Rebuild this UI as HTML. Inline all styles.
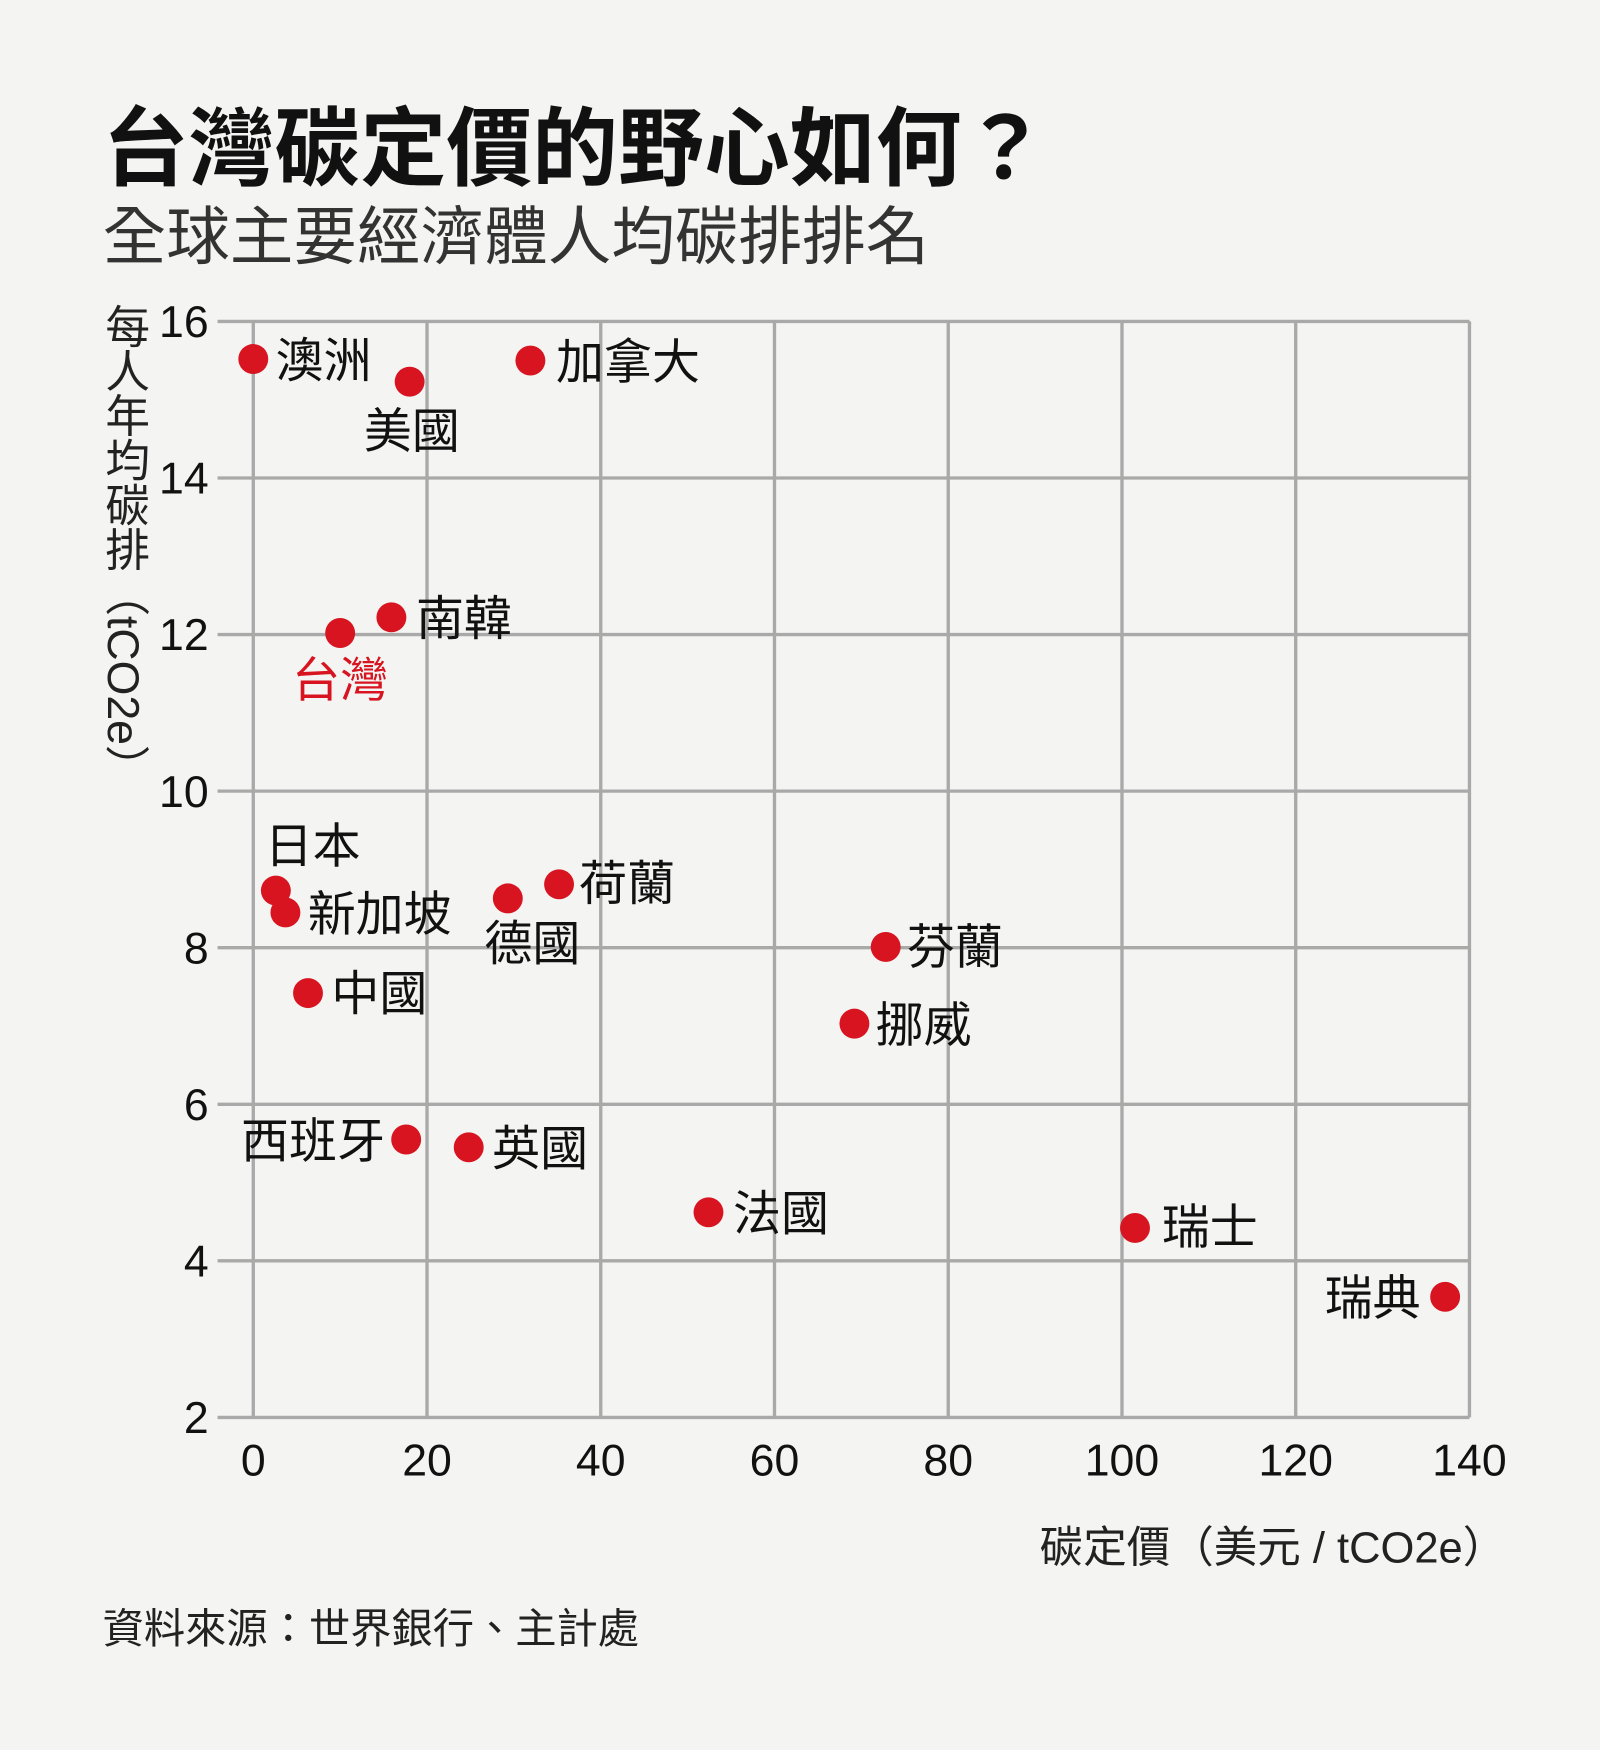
<!DOCTYPE html>
<html><head><meta charset="utf-8"><style>
html,body{margin:0;padding:0;background:#f4f4f3;}
svg{display:block;}
text{font-family:"Liberation Sans Narrow","Liberation Sans","Noto Sans CJK TC",sans-serif;}
.cjk{font-family:"Liberation Sans","Noto Sans CJK TC",sans-serif;}
</style></head><body>
<svg id="chart" width="1600" height="1750" viewBox="0 0 1434 1568" preserveAspectRatio="none" xmlns="http://www.w3.org/2000/svg">
<rect width="1434" height="1568" fill="#f4f4f3"/>
<text class="cjk" x="92" y="160" font-size="77" font-weight="bold" fill="#111">台灣碳定價的野心如何？</text>
<text class="cjk" x="92" y="232" font-size="57" fill="#333">全球主要經濟體人均碳排排名</text>
<text class="cjk" x="110" y="272" font-size="40" fill="#222" writing-mode="tb" glyph-orientation-vertical="0" style="writing-mode:vertical-rl">每人年均碳排（tCO2e）</text>
<g id="grid"></g>
<g id="ticks"></g>
<g id="marks"></g>
<text class="cjk" x="1350" y="1400" font-size="39" text-anchor="end" fill="#222">碳定價（美元 / tCO2e）</text>
<text class="cjk" x="92" y="1472" font-size="37" fill="#222">資料來源：世界銀行、主計處</text>
</svg>
<script>
const countries=["澳洲","美國","加拿大","南韓","台灣","日本","新加坡","中國","德國","荷蘭","芬蘭","挪威","西班牙","英國","法國","瑞士","瑞典"];
const carbonPrice=[0,18.0,31.9,15.9,10.0,2.6,3.7,6.3,29.3,35.2,72.8,69.2,17.6,24.8,52.4,101.5,137.2];
const emissions=[15.52,15.23,15.5,12.22,12.02,8.73,8.45,7.42,8.63,8.81,8.01,7.03,5.55,5.45,4.62,4.42,3.54];
const xTicks=[0,20,40,60,80,100,120,140];
const yTicks=[2,4,6,8,10,12,14,16];
// label placement (style): [dx, dy, anchor]
const labelPlace=[[20,16,"start"],[2,59,"middle"],[23,16,"start"],[22,16,"start"],[0,57,"middle"],[-10,-25,"start"],[20,16,"start"],[21,15,"start"],[22,55,"middle"],[18,14,"start"],[19,15,"start"],[19,16,"start"],[-19,16,"end"],[21,16,"start"],[22,16,"start"],[24,14,"start"],[-22,16,"end"]];
const X=v=>227+v*(1317-227)/140;
const Y=v=>1270-(v-2)*(1270-288)/14;
const NS="http://www.w3.org/2000/svg";
function mk(tag,attrs,parent,txt){const e=document.createElementNS(NS,tag);for(const k in attrs)e.setAttribute(k,attrs[k]);if(txt!==undefined)e.textContent=txt;parent.appendChild(e);return e;}
const grid=document.getElementById('grid'),ticks=document.getElementById('ticks'),marks=document.getElementById('marks');
yTicks.forEach(t=>{
  const l=mk('line',{x1:195,x2:1317,y1:Y(t),y2:Y(t),stroke:'#a9a9a9','stroke-width':3},grid);
  
  
  const tx=mk('text',{x:187,y:Y(t)+14,'font-size':40,'text-anchor':'end',fill:'#111'},ticks,String(t));
  
  
});
xTicks.forEach(t=>{
  const l=mk('line',{x1:X(t),x2:X(t),y1:288,y2:1270,stroke:'#a9a9a9','stroke-width':3},grid);
  
  
  const tx=mk('text',{x:X(t),y:1322,'font-size':40,'text-anchor':'middle',fill:'#111'},ticks,String(t));
  
  
});
countries.forEach((c,i)=>{
  const cx=X(carbonPrice[i]),cy=Y(emissions[i]);
  const d=mk('circle',{cx:cx,cy:cy,r:13.4,fill:'#d7141f'},marks);
  
  
  const p=labelPlace[i];
  const t=mk('text',{x:cx+p[0],y:cy+p[1],'font-size':43,'text-anchor':p[2],fill:c==="台灣"?'#d7141f':'#111','class':'cjk'},marks,c);
  
  
});
</script>
</body></html>
